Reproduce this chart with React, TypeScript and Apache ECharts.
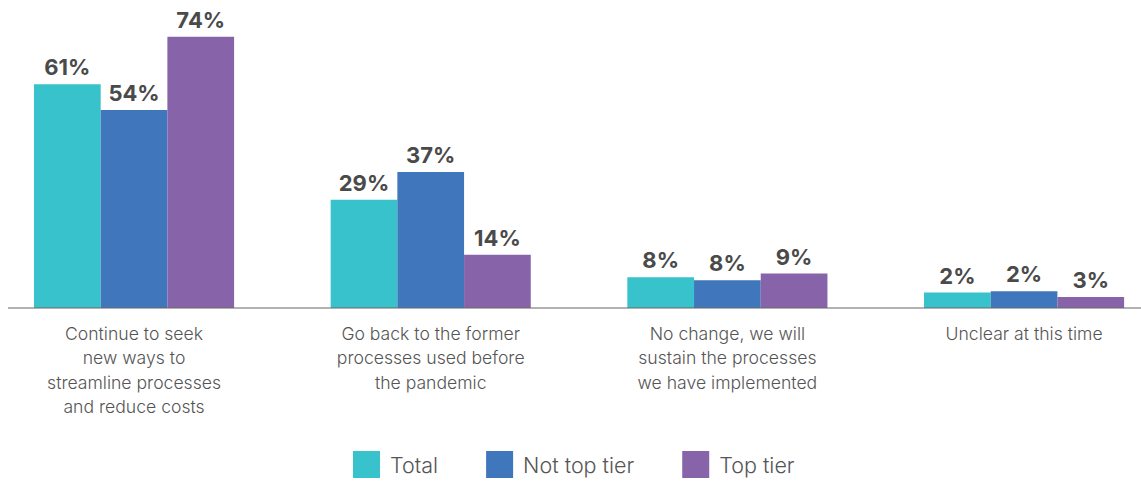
import React, { useEffect, useRef } from "react";
import * as echarts from "echarts";

const categories = [
  "Continue to seek\nnew ways to\nstreamline processes\nand reduce costs",
  "Go back to the former\nprocesses used before\nthe pandemic",
  "No change, we will\nsustain the processes\nwe have implemented",
  "Unclear at this time",
];
const seriesNames = ["Total", "Not top tier", "Top tier"];
// bar heights as drawn in the picture
const totalHeights = [61, 29.5, 8.4, 4.2];
const notTopTierHeights = [54, 37.1, 7.6, 4.6];
const topTierHeights = [74, 14.5, 9.4, 3.0];
// printed value labels
const totalLabels = [61, 29, 8, 2];
const notTopTierLabels = [54, 37, 8, 2];
const topTierLabels = [74, 14, 9, 3];
const colors = ["#38C2CB", "#3F76BC", "#8764AA"];

const SHIFT = 40;

export default function App() {
  const ref = useRef<HTMLDivElement>(null);
  useEffect(() => {
    if (!ref.current) return;
    const chart = echarts.init(ref.current, null, { renderer: "svg" });
    const heights = [totalHeights, notTopTierHeights, topTierHeights];
    const labels = [totalLabels, notTopTierLabels, topTierLabels];
    chart.setOption({
      animation: false,
      textStyle: { fontFamily: "Inter" },
      grid: { left: SHIFT - 14.3, width: 1186.7, top: 14.7, bottom: 173 },
      legend: {
        data: seriesNames,
        left: SHIFT + 348,
        top: 446,
        itemWidth: 27,
        itemHeight: 27,
        itemGap: 48,
        icon: "rect",
        textStyle: {
          fontSize: 21.5,
          color: "#555",
          fontFamily: "Inter",
          fontWeight: 300,
          padding: [0, 0, 0, 5],
        },
      },
      xAxis: {
        type: "category",
        data: categories,
        axisLine: { show: false },
        axisTick: { show: false },
        axisLabel: {
          interval: 0,
          margin: 13,
          fontSize: 17.6,
          lineHeight: 24.5,
          color: "#555",
          fontWeight: 300,
          fontFamily: "Inter",
        },
      },
      yAxis: {
        type: "value",
        min: 0,
        max: 80,
        show: false,
        splitLine: { show: false },
      },
      graphic: [
        {
          type: "line",
          shape: { x1: SHIFT + 8, y1: 308, x2: SHIFT + 1141, y2: 308 },
          style: { stroke: "#666", lineWidth: 1 },
          z: 10,
        },
      ],
      series: seriesNames.map((name, i) => ({
        name,
        type: "bar",
        barWidth: 66.7,
        barGap: "0%",
        itemStyle: { color: colors[i] },
        data: heights[i],
        label: {
          show: true,
          position: "top",
          distance: 6,
          fontSize: 22,
          fontWeight: "bold",
          color: "#4a4a4a",
          fontFamily: "Inter",
          formatter: (p: any) => `${labels[i][p.dataIndex]}%`,
        },
      })),
    });
    return () => chart.dispose();
  }, []);
  return (
    <div
      ref={ref}
      style={{ position: "fixed", left: -SHIFT, top: 0, width: 1141 + 2 * SHIFT, height: 481, background: "#fff" }}
    />
  );
}
